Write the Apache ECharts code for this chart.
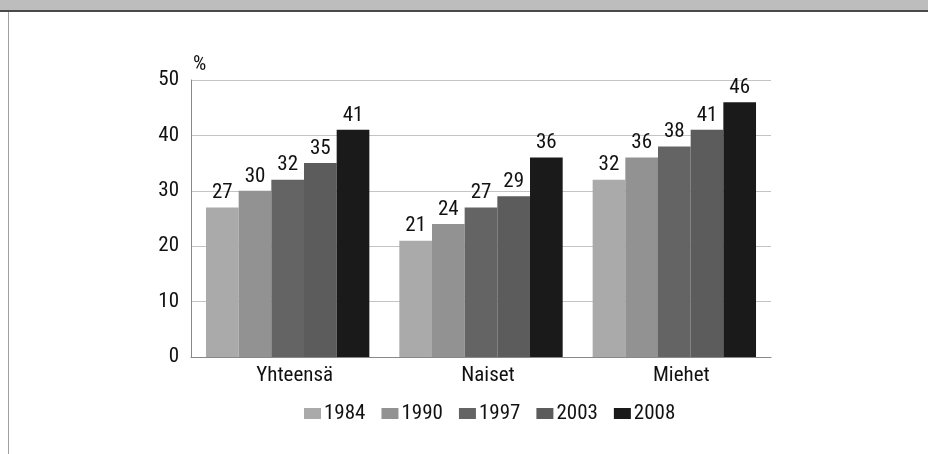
<!DOCTYPE html>
<html>
<head>
<meta charset="utf-8">
<script src="https://cdn.jsdelivr.net/npm/echarts@6/dist/echarts.min.js"></script>
<style>
  html, body { margin: 0; padding: 0; background: #fff; }
  #wrap { position: relative; width: 928px; height: 454px; overflow: hidden; }
  #band { position: absolute; left: 0; top: 0; width: 928px; height: 10px; background: #bdbdbd; border-bottom: 2px solid #4a4a4a; }
  #side { position: absolute; left: 8px; top: 12px; width: 1px; height: 442px; background: #a0a0a0; }
  #chart { position: absolute; left: 0; top: 0; width: 928px; height: 454px; }
</style>
</head>
<body>
<div id="wrap">
  <div id="band"></div>
  <div id="side"></div>
  <div id="chart"></div>
</div>
<script>
// Categories and yearly shares (%)
const categories = ['Yhteensä', 'Naiset', 'Miehet'];
const years = ['1984', '1990', '1997', '2003', '2008'];
const v1984 = [27, 21, 32];
const v1990 = [30, 24, 36];
const v1997 = [32, 27, 38];
const v2003 = [35, 29, 41];
const v2008 = [41, 36, 46];
const yTicks = [0, 10, 20, 30, 40, 50];

const values = [v1984, v1990, v1997, v2003, v2008];
const colors = ['#aaaaaa', '#929292', '#646464', '#5c5c5c', '#1a1a1a'];
const font = '"Roboto Condensed", "DejaVu Sans Condensed", sans-serif';
const fs = 21;

const chart = echarts.init(document.getElementById('chart'), null, { renderer: 'canvas' });
chart.setOption({
  animation: false,
  textStyle: { fontFamily: font },
  grid: { left: 191, right: 157, top: 80, bottom: 97 },
  legend: {
    top: 398,
    left: 299,
    itemWidth: 17,
    itemHeight: 11,
    itemGap: 16,
    icon: 'rect',
    textStyle: { fontSize: fs, color: '#111', fontFamily: font, padding: [0, 0, 0, -2] },
    data: years
  },
  xAxis: {
    type: 'category',
    data: categories,
    axisLine: { lineStyle: { color: '#888', width: 1 } },
    axisTick: { show: false },
    axisLabel: { fontSize: fs, color: '#111', margin: 8, padding: [0, 0, 0, 14], fontFamily: font }
  },
  yAxis: {
    type: 'value',
    min: yTicks[0],
    max: yTicks[yTicks.length - 1],
    interval: 10,
    name: '%',
    nameLocation: 'end',
    nameGap: 5,
    nameTextStyle: { fontSize: fs, color: '#111', align: 'left', padding: [0, 0, 0, 2], fontFamily: font },
    axisLine: { show: true, lineStyle: { color: '#888' } },
    axisTick: { show: false },
    axisLabel: { fontSize: fs, color: '#111', margin: 12, fontFamily: font },
    splitLine: { lineStyle: { color: '#c4c4c4', width: 1 } }
  },
  series: years.map((y, i) => ({
    name: y,
    type: 'bar',
    data: values[i],
    barGap: '0%',
    barCategoryGap: '15.5%',
    itemStyle: { color: colors[i] },
    label: {
      show: true,
      position: 'top',
      distance: 4,
      fontSize: fs,
      color: '#111',
      fontFamily: font
    }
  }))
});
</script>
</body>
</html>
